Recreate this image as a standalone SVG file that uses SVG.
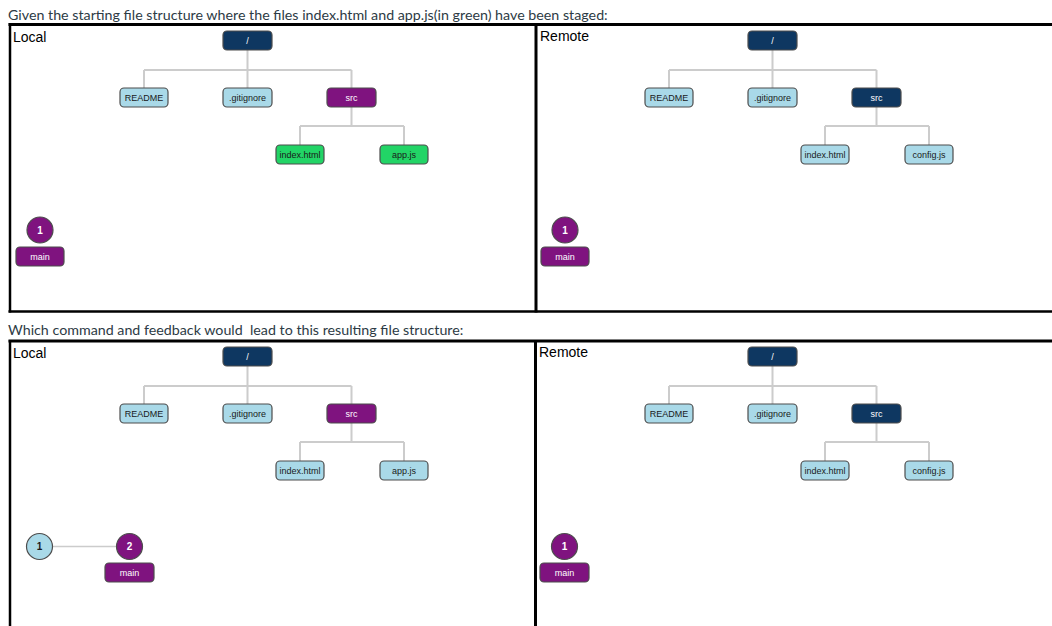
<svg xmlns="http://www.w3.org/2000/svg" width="1052" height="626" viewBox="0 0 1052 626">
<style>
.hd{font-family:Lato,"Liberation Sans",sans-serif;font-size:14.25px;fill:#2d3b45}
.pl{font-family:"Liberation Sans",Arial,sans-serif;font-size:14px;fill:#000}
.bd{stroke:#000;fill:none}
.cn{stroke:#cccccc;stroke-width:2;fill:none}
.n rect,.n circle{stroke:#4d4d4d;stroke-width:1.2}
.n text{font-family:"Liberation Sans",Arial,sans-serif;font-size:9px;text-anchor:middle;dominant-baseline:central}
.navy rect{fill:#0e3761}.navy text{fill:#fff}
.pur rect,.pur circle{fill:#7f137f}.pur text{fill:#fff}
.lb rect,.lb circle{fill:#a9d9e8}.lb text{fill:#1a1a1a}
.gr rect{fill:#22d466}.gr text{fill:#1a1a1a}
.cm text{font-size:10px;font-weight:bold}
</style>
<rect x="0" y="0" width="1052" height="626" fill="#fff"/>
<text class="hd" x="8" y="20">Given the starting file structure where the files index.html and app.js(in green) have been staged:</text>
<text class="hd" x="8" y="335" xml:space="preserve">Which command and feedback would  lead to this resulting file structure:</text>
<g id="borders">
<line class="bd" x1="8.5" y1="24.5" x2="1052" y2="24.5" stroke-width="3"/>
<line class="bd" x1="10" y1="23" x2="10" y2="312.5" stroke-width="2.5"/>
<line class="bd" x1="536" y1="23" x2="536" y2="312.5" stroke-width="3"/>
<line class="bd" x1="8.5" y1="311.5" x2="1052" y2="311.5" stroke-width="2.5"/>
<line class="bd" x1="8.5" y1="341" x2="1052" y2="341" stroke-width="3"/>
<line class="bd" x1="10" y1="340" x2="10" y2="626" stroke-width="2.5"/>
<line class="bd" x1="535.5" y1="340" x2="535.5" y2="626" stroke-width="3"/>
</g>
<text class="pl" x="13" y="42">Local</text>
<text class="pl" x="540" y="41">Remote</text>
<text class="pl" x="13" y="358">Local</text>
<text class="pl" x="539" y="357">Remote</text>
<g id="connectors">
<path class="cn" d="M247.5 50V70M144 70H351.5M144 70V88M247.5 70V88M351.5 70V88M351.5 107V126M300 126H404M300 126V145M404 126V145"/>
<path class="cn" d="M772.5 50V70M669 70H876.5M669 70V88M772.5 70V88M876.5 70V88M876.5 107V126M825 126H929M825 126V145M929 126V145"/>
<path class="cn" d="M247.5 366V386M144 386H351.5M144 386V404M247.5 386V404M351.5 386V404M351.5 423V442M300 442H404M300 442V461M404 442V461"/>
<path class="cn" d="M772.5 366V386M669 386H876.5M669 386V404M772.5 386V404M876.5 386V404M876.5 423V442M825 442H929M825 442V461M929 442V461"/>
<line x1="52.5" y1="546.5" x2="116.5" y2="546.5" stroke="#cccccc" stroke-width="1.5"/>
</g>
<!-- Top-left -->
<g id="tl-root" class="n navy"><rect x="223" y="31" width="49" height="19" rx="4"/><text x="247.5" y="40.5">/</text></g>
<g id="tl-readme" class="n lb"><rect x="120" y="88" width="48" height="19" rx="4"/><text x="144" y="97.5">README</text></g>
<g id="tl-gitignore" class="n lb"><rect x="223" y="88" width="49" height="19" rx="4"/><text x="247.5" y="97.5">.gitignore</text></g>
<g id="tl-src" class="n pur"><rect x="327" y="88" width="49" height="19" rx="4"/><text x="351.5" y="97.5">src</text></g>
<g id="tl-index" class="n gr"><rect x="276" y="145" width="48" height="19" rx="4"/><text x="300" y="154.5">index.html</text></g>
<g id="tl-app" class="n gr"><rect x="380" y="145" width="48" height="19" rx="4"/><text x="404" y="154.5">app.js</text></g>
<g id="tl-commit1" class="n pur cm"><circle cx="40" cy="230" r="13"/><text x="40" y="230">1</text></g>
<g id="tl-main" class="n pur"><rect x="16" y="247" width="48" height="19" rx="4"/><text x="40" y="256.5">main</text></g>
<!-- Top-right -->
<g id="tr-root" class="n navy"><rect x="748" y="31" width="49" height="19" rx="4"/><text x="772.5" y="40.5">/</text></g>
<g id="tr-readme" class="n lb"><rect x="645" y="88" width="48" height="19" rx="4"/><text x="669" y="97.5">README</text></g>
<g id="tr-gitignore" class="n lb"><rect x="748" y="88" width="49" height="19" rx="4"/><text x="772.5" y="97.5">.gitignore</text></g>
<g id="tr-src" class="n navy"><rect x="852" y="88" width="49" height="19" rx="4"/><text x="876.5" y="97.5">src</text></g>
<g id="tr-index" class="n lb"><rect x="801" y="145" width="48" height="19" rx="4"/><text x="825" y="154.5">index.html</text></g>
<g id="tr-config" class="n lb"><rect x="905" y="145" width="48" height="19" rx="4"/><text x="929" y="154.5">config.js</text></g>
<g id="tr-commit1" class="n pur cm"><circle cx="565" cy="230" r="13"/><text x="565" y="230">1</text></g>
<g id="tr-main" class="n pur"><rect x="541" y="247" width="48" height="19" rx="4"/><text x="565" y="256.5">main</text></g>
<!-- Bottom-left -->
<g id="bl-root" class="n navy"><rect x="223" y="347" width="49" height="19" rx="4"/><text x="247.5" y="356.5">/</text></g>
<g id="bl-readme" class="n lb"><rect x="120" y="404" width="48" height="19" rx="4"/><text x="144" y="413.5">README</text></g>
<g id="bl-gitignore" class="n lb"><rect x="223" y="404" width="49" height="19" rx="4"/><text x="247.5" y="413.5">.gitignore</text></g>
<g id="bl-src" class="n pur"><rect x="327" y="404" width="49" height="19" rx="4"/><text x="351.5" y="413.5">src</text></g>
<g id="bl-index" class="n lb"><rect x="276" y="461" width="48" height="19" rx="4"/><text x="300" y="470.5">index.html</text></g>
<g id="bl-app" class="n lb"><rect x="380" y="461" width="48" height="19" rx="4"/><text x="404" y="470.5">app.js</text></g>
<g id="bl-commit1" class="n lb cm"><circle cx="39.5" cy="546.5" r="13"/><text x="39.5" y="546.5">1</text></g>
<g id="bl-commit2" class="n pur cm"><circle cx="129.5" cy="546.5" r="13"/><text x="129.5" y="546.5">2</text></g>
<g id="bl-main" class="n pur"><rect x="105" y="563" width="49" height="19" rx="4"/><text x="129.5" y="572.5">main</text></g>
<!-- Bottom-right -->
<g id="br-root" class="n navy"><rect x="748" y="347" width="49" height="19" rx="4"/><text x="772.5" y="356.5">/</text></g>
<g id="br-readme" class="n lb"><rect x="645" y="404" width="48" height="19" rx="4"/><text x="669" y="413.5">README</text></g>
<g id="br-gitignore" class="n lb"><rect x="748" y="404" width="49" height="19" rx="4"/><text x="772.5" y="413.5">.gitignore</text></g>
<g id="br-src" class="n navy"><rect x="852" y="404" width="49" height="19" rx="4"/><text x="876.5" y="413.5">src</text></g>
<g id="br-index" class="n lb"><rect x="801" y="461" width="48" height="19" rx="4"/><text x="825" y="470.5">index.html</text></g>
<g id="br-config" class="n lb"><rect x="905" y="461" width="48" height="19" rx="4"/><text x="929" y="470.5">config.js</text></g>
<g id="br-commit1" class="n pur cm"><circle cx="564.5" cy="546.5" r="13"/><text x="564.5" y="546.5">1</text></g>
<g id="br-main" class="n pur"><rect x="540" y="563" width="49" height="19" rx="4"/><text x="564.5" y="572.5">main</text></g>
</svg>
